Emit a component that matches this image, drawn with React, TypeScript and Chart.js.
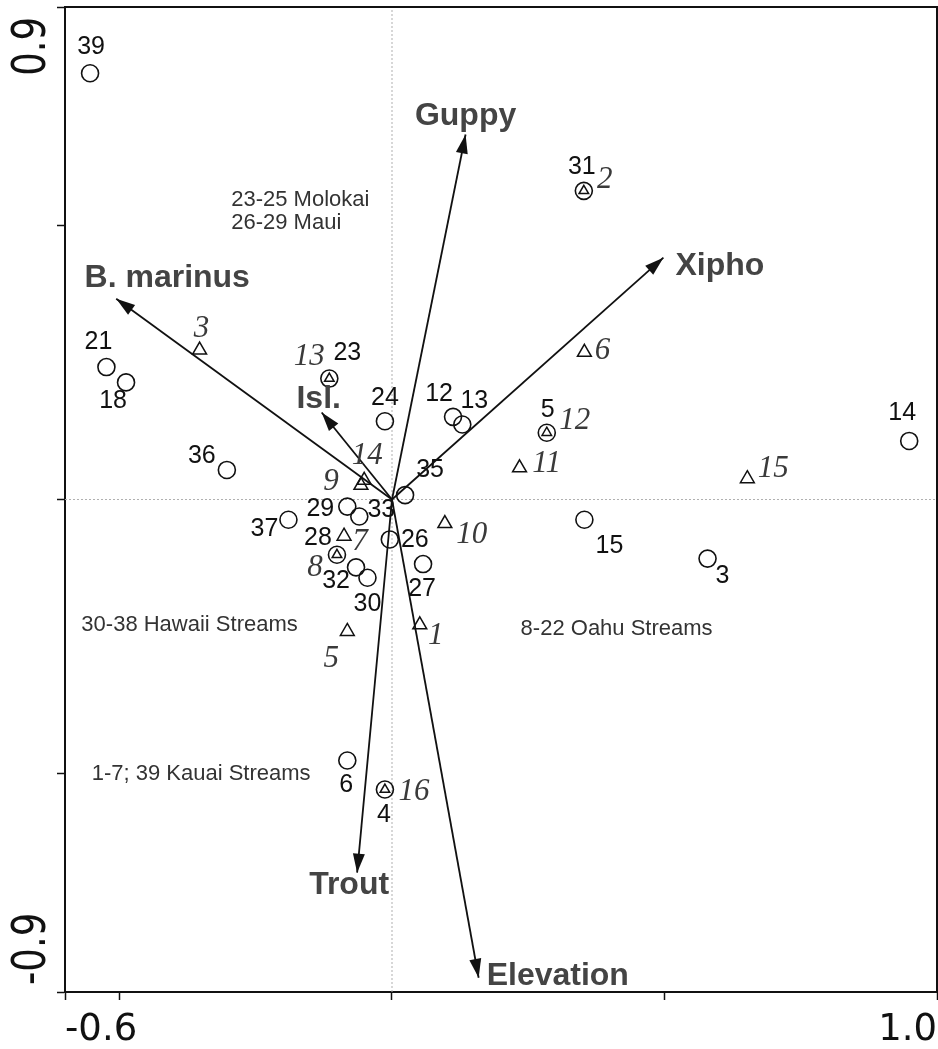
import React, { useEffect, useRef } from 'react';
import { Chart, registerables } from 'chart.js';

Chart.register(...registerables);

// ---- axes ----
const xRange = [-0.6, 1.0];
const yRange = [-0.9, 0.9];
const xTickValues = [-0.6, -0.5, 0, 0.5, 1.0];
const xTickLabels = ['-0.6', '', '', '', '1.0'];
const yTickValues = [-0.9, -0.5, 0, 0.5, 0.9];
const yTickLabels = ['-0.9', '', '', '', '0.9'];

// ---- sites (circles) ----
const siteLabels = ['39', '21', '18', '36', '37', '29', '33', '28', '32', '30', '26', '27', '35', '24', '12', '13', '23', '5', '15', '31', '14', '3', '6', '4'];
const siteX = [-0.554, -0.524, -0.488, -0.303, -0.190, -0.082, -0.060, -0.101, -0.066, -0.045, -0.004, 0.057, 0.024, -0.013, 0.112, 0.129, -0.115, 0.284, 0.353, 0.352, 0.949, 0.579, -0.082, -0.013];
const siteY = [0.779, 0.242, 0.214, 0.054, -0.037, -0.013, -0.031, -0.101, -0.124, -0.143, -0.073, -0.118, 0.008, 0.143, 0.151, 0.137, 0.221, 0.122, -0.037, 0.564, 0.107, -0.108, -0.477, -0.530];

// ---- sampling units (triangles) ----
const speciesLabels = ['1', '2', '3', '5', '6', '7', '8', '9', '10', '11', '12', '13', '14', '15', '16'];
const speciesX = [0.051, 0.352, -0.353, -0.082, 0.353, -0.088, -0.101, -0.057, 0.097, 0.234, 0.284, -0.115, -0.051, 0.652, -0.013];
const speciesY = [-0.229, 0.564, 0.273, -0.241, 0.269, -0.067, -0.101, 0.026, -0.044, 0.058, 0.122, 0.221, 0.035, 0.038, -0.530];

// ---- environmental vectors ----
const vectorLabels = ['Guppy', 'Xipho', 'B. marinus', 'Isl.', 'Trout', 'Elevation'];
const vectorX = [0.135, 0.498, -0.506, -0.129, -0.064, 0.159];
const vectorY = [0.667, 0.442, 0.367, 0.159, -0.682, -0.874];

// ---- notes ----
const noteTexts = ['23-25 Molokai', '26-29 Maui', '30-38 Hawaii Streams', '8-22 Oahu Streams', '1-7; 39 Kauai Streams'];

// ---- layout / style ----
const noteAnchor: Record<string, [number, number]> = {
  '23-25 Molokai': [-0.295, 0.536],
  '26-29 Maui': [-0.295, 0.495],
  '30-38 Hawaii Streams': [-0.570, -0.241],
  '8-22 Oahu Streams': [0.236, -0.247],
  '1-7; 39 Kauai Streams': [-0.551, -0.512],
};
const siteLabelOffset: Record<string, [number, number]> = {
  '39': [1, -26], '21': [-8, -25], '18': [-13, 19], '36': [-25, -14], '37': [-24, 9],
  '29': [-27, 2], '33': [22, -6], '28': [-19, -17], '32': [-20, 14], '30': [0, 26],
  '26': [25, 1], '27': [-1, 25], '35': [25, -25], '24': [0, -23], '12': [-14, -23],
  '13': [12, -23], '23': [18, -25], '5': [1, -23], '15': [25, 26], '31': [-2, -24],
  '14': [-7, -28], '3': [15, 18], '6': [-1, 25], '4': [-1, 26],
};
const speciesLabelOffset: Record<string, [number, number]> = {
  '1': [16, 11], '2': [21, -11], '3': [2, -21], '5': [-16, 27], '6': [18, -1],
  '7': [16, 6], '8': [-22, 13], '9': [-30, -3], '10': [27, 11], '11': [27, -4],
  '12': [28, -12], '13': [-20, -22], '14': [3, -25], '15': [26, -10], '16': [29, 2],
};
const vectorLabelPlace: Record<string, [number, number, CanvasTextAlign]> = {
  'Guppy': [0, -10, 'center'],
  'Xipho': [12, 17, 'left'],
  'B. marinus': [51, -12, 'center'],
  'Isl.': [-3, -4, 'center'],
  'Trout': [-8, 21, 'center'],
  'Elevation': [8, 7, 'left'],
};

const INK = '#111111';
const TEXT_GREY = '#444444';
const AXIS_FONT = '37px "DejaVu Sans", sans-serif';

function hasSiteAt(px: number, py: number) {
  for (let i = 0; i < siteX.length; i++) {
    if (Math.abs(siteX[i] - px) < 1e-9 && Math.abs(siteY[i] - py) < 1e-9) return true;
  }
  return false;
}

const overlayPlugin = {
  id: 'overlay',
  afterDatasetsDraw(chart: any) {
    const { ctx, chartArea, scales } = chart;
    const xs = scales.x;
    const ys = scales.y;
    ctx.save();

    // top and right frame
    ctx.strokeStyle = INK;
    ctx.lineWidth = 2;
    ctx.beginPath();
    ctx.moveTo(chartArea.left, chartArea.top);
    ctx.lineTo(chartArea.right, chartArea.top);
    ctx.lineTo(chartArea.right, chartArea.bottom);
    ctx.stroke();

    // arrowheads and vector labels
    const ox = xs.getPixelForValue(0);
    const oy = ys.getPixelForValue(0);
    vectorLabels.forEach((lab, i) => {
      const tx = xs.getPixelForValue(vectorX[i]);
      const ty = ys.getPixelForValue(vectorY[i]);
      const ang = Math.atan2(ty - oy, tx - ox);
      const c = Math.cos(ang);
      const s = Math.sin(ang);
      const L = 19;
      const W = 6;
      ctx.fillStyle = INK;
      ctx.beginPath();
      ctx.moveTo(tx, ty);
      ctx.lineTo(tx - L * c + W * s, ty - L * s - W * c);
      ctx.lineTo(tx - L * c - W * s, ty - L * s + W * c);
      ctx.closePath();
      ctx.fill();

      const place = vectorLabelPlace[lab];
      ctx.font = 'bold 32px "Liberation Sans", Arial, sans-serif';
      ctx.fillStyle = TEXT_GREY;
      ctx.textAlign = place[2];
      ctx.textBaseline = 'alphabetic';
      ctx.fillText(lab, tx + place[0], ty + place[1]);
    });

    // site labels
    ctx.font = '25px "Liberation Sans", Arial, sans-serif';
    ctx.fillStyle = INK;
    ctx.textAlign = 'center';
    ctx.textBaseline = 'middle';
    siteLabels.forEach((lab, i) => {
      const px = xs.getPixelForValue(siteX[i]);
      const py = ys.getPixelForValue(siteY[i]);
      const off = siteLabelOffset[lab] || [0, -24];
      ctx.fillText(lab, px + off[0], py + off[1]);
    });

    // unit labels (italic serif)
    ctx.font = 'italic 31px "Liberation Serif", "Times New Roman", serif';
    ctx.fillStyle = '#3a3a3a';
    speciesLabels.forEach((lab, i) => {
      const px = xs.getPixelForValue(speciesX[i]);
      const py = ys.getPixelForValue(speciesY[i]);
      const off = speciesLabelOffset[lab] || [20, 0];
      ctx.fillText(lab, px + off[0], py + off[1]);
    });

    // notes
    ctx.font = '22px "Liberation Sans", Arial, sans-serif';
    ctx.fillStyle = '#333333';
    ctx.textAlign = 'left';
    ctx.textBaseline = 'alphabetic';
    noteTexts.forEach((t) => {
      const a = noteAnchor[t];
      ctx.fillText(t, xs.getPixelForValue(a[0]), ys.getPixelForValue(a[1]));
    });

    // x tick labels (end labels aligned inward)
    ctx.font = AXIS_FONT;
    ctx.fillStyle = INK;
    ctx.textBaseline = 'alphabetic';
    xTickValues.forEach((v, i) => {
      const lab = xTickLabels[i];
      if (!lab) return;
      const px = xs.getPixelForValue(v);
      ctx.textAlign = v === xRange[0] ? 'left' : v === xRange[1] ? 'right' : 'center';
      ctx.fillText(lab, px, chartArea.bottom + 48);
    });

    // rotated y tick labels
    yTickValues.forEach((v, i) => {
      const lab = yTickLabels[i];
      if (!lab) return;
      const py = ys.getPixelForValue(v);
      const isTop = v === yRange[1];
      ctx.save();
      ctx.translate(chartArea.left - 20, isTop ? py + 10 : py - 7);
      ctx.rotate(-Math.PI / 2);
      ctx.scale(1, 1.25);
      ctx.textAlign = isTop ? 'right' : 'left';
      ctx.textBaseline = 'alphabetic';
      ctx.fillText(lab, 0, 0);
      ctx.restore();
    });

    ctx.restore();
  },
};

export default function App() {
  const canvasRef = useRef<HTMLCanvasElement | null>(null);

  useEffect(() => {
    const canvas = canvasRef.current;
    if (!canvas) return;

    const sitePoints = siteX.map((x, i) => ({ x, y: siteY[i] }));
    const speciesPoints = speciesX.map((x, i) => ({ x, y: speciesY[i] }));

    const vectorDatasets = vectorLabels.map((lab, i) => ({
      label: lab,
      data: [{ x: 0, y: 0 }, { x: vectorX[i], y: vectorY[i] }],
      showLine: true,
      borderColor: INK,
      borderWidth: 1.8,
      pointRadius: 0,
      order: 1,
    }));

    const chart = new Chart(canvas, {
      type: 'scatter',
      data: {
        datasets: [
          {
            label: 'Sites',
            data: sitePoints,
            pointStyle: 'circle',
            pointRadius: 8.5,
            borderColor: INK,
            borderWidth: 1.6,
            backgroundColor: 'rgba(0,0,0,0)',
            order: 0,
          },
          {
            label: 'Units',
            data: speciesPoints,
            pointStyle: 'triangle',
            pointRadius: (c: any) => (c.raw && hasSiteAt(c.raw.x, c.raw.y) ? 5.5 : 8),
            borderColor: INK,
            borderWidth: 1.5,
            backgroundColor: 'rgba(0,0,0,0)',
            order: 0,
          },
          ...vectorDatasets,
          {
            label: 'zero-x',
            data: [{ x: xRange[0], y: 0 }, { x: xRange[1], y: 0 }],
            showLine: true,
            borderColor: '#b0b0b0',
            borderWidth: 1,
            borderDash: [2, 2],
            pointRadius: 0,
            order: 2,
          },
          {
            label: 'zero-y',
            data: [{ x: 0, y: yRange[0] }, { x: 0, y: yRange[1] }],
            showLine: true,
            borderColor: '#b0b0b0',
            borderWidth: 1,
            borderDash: [2, 2],
            pointRadius: 0,
            order: 2,
          },
        ],
      },
      options: {
        animation: false,
        responsive: true,
        maintainAspectRatio: false,
        events: [],
        layout: { autoPadding: false, padding: { top: 7, right: 1, left: 0, bottom: 0 } },
        plugins: {
          legend: { display: false },
          tooltip: { enabled: false },
        },
        scales: {
          x: {
            type: 'linear',
            min: xRange[0],
            max: xRange[1],
            afterBuildTicks: (scale: any) => {
              scale.ticks = xTickValues.map((v) => ({ value: v }));
            },
            afterFit: (scale: any) => {
              scale.height = 57;
            },
            ticks: { display: false },
            grid: {
              display: true,
              drawOnChartArea: false,
              drawTicks: true,
              tickLength: 8,
              tickColor: INK,
              tickWidth: 1.5,
            },
            border: { display: true, color: INK, width: 2 },
          },
          y: {
            type: 'linear',
            min: yRange[0],
            max: yRange[1],
            afterBuildTicks: (scale: any) => {
              scale.ticks = yTickValues.map((v) => ({ value: v }));
            },
            afterFit: (scale: any) => {
              scale.width = 65;
            },
            ticks: { display: false },
            grid: {
              display: true,
              drawOnChartArea: false,
              drawTicks: true,
              tickLength: 8,
              tickColor: INK,
              tickWidth: 1.5,
            },
            border: { display: true, color: INK, width: 2 },
          },
        },
      } as any,
      plugins: [overlayPlugin],
    });

    return () => chart.destroy();
  }, []);

  return (
    <div style={{ position: 'absolute', left: 0, top: 0, width: 938, height: 1049, background: '#fff' }}>
      <canvas ref={canvasRef} style={{ display: 'block' }} />
    </div>
  );
}
